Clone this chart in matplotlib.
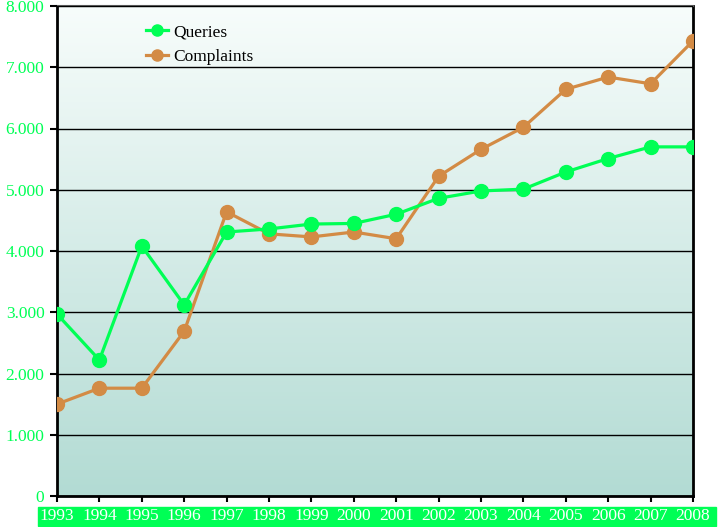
import numpy as np
import matplotlib.pyplot as plt
from matplotlib.patches import Rectangle
from matplotlib.ticker import FuncFormatter

# === Data ===
years = list(range(1993, 2009))
queries = [2970, 2220, 4080, 3120, 4310, 4360, 4440, 4450, 4600,
           4860, 4980, 5010, 5290, 5510, 5700, 5700]
complaints = [1500, 1760, 1760, 2690, 4640, 4280, 4230, 4310, 4200,
              5220, 5660, 6020, 6640, 6840, 6730, 7430]

green = "#00ff55"
orange = "#d38b45"

plt.rcParams['font.family'] = ['Liberation Serif', 'DejaVu Serif']

fig = plt.figure(figsize=(7.22, 5.27), dpi=100)
ax = fig.add_axes([57 / 722, 31 / 527, 636 / 722, 490 / 527])

# vertical gradient background
grad = np.linspace(0, 1, 256).reshape(-1, 1)
top = np.array([0.97, 0.99, 0.985])
bottom = np.array([0.70, 0.86, 0.83])
img = top * (1 - grad[..., None]) + bottom * grad[..., None]
img = np.repeat(img, 2, axis=1)
ax.imshow(img, extent=[0, 1, 0, 1], transform=ax.transAxes,
          aspect="auto", zorder=0)

ax.plot(years, complaints, color=orange, lw=2.3, marker="o", ms=10,
        label="Complaints", zorder=3)
ax.plot(years, queries, color=green, lw=2.3, marker="o", ms=10,
        label="Queries", zorder=4)

ax.set_xlim(1993, 2008)
ax.set_ylim(0, 8000)
ax.set_yticks(range(0, 8001, 1000))
ax.set_xticks(years)
ax.yaxis.set_major_formatter(FuncFormatter(
    lambda v, p: "0" if v == 0 else f"{int(v) // 1000}.000"))
ax.grid(axis="y", color="black", lw=1.0, zorder=1)
ax.set_axisbelow(False)

for side in ["left", "bottom", "right"]:
    ax.spines[side].set_linewidth(2)
    ax.spines[side].set_color("black")
ax.spines["top"].set_color("#555555")
ax.spines["top"].set_linewidth(1.5)

ax.tick_params(axis="y", direction="out", length=5, width=1.5,
               labelcolor=green, labelsize=12.5, pad=4)
ax.tick_params(axis="x", direction="out", length=4.5, width=1.5,
               labelcolor="white", labelsize=12.5, pad=4.5)

# green band behind the year labels
ax.add_patch(Rectangle((38 / 722, 1 / 527), 678 / 722, 19 / 527,
                       transform=fig.transFigure, color=green,
                       clip_on=False, zorder=0.5))

handles, labels = ax.get_legend_handles_labels()
ax.legend(handles[::-1], labels[::-1], loc="upper left",
          bbox_to_anchor=(0.115, 0.995), frameon=False, fontsize=12.5,
          handlelength=1.3, handletextpad=0.3, labelspacing=0.5,
          markerscale=0.8)

fig.savefig("out.png", dpi=100)
